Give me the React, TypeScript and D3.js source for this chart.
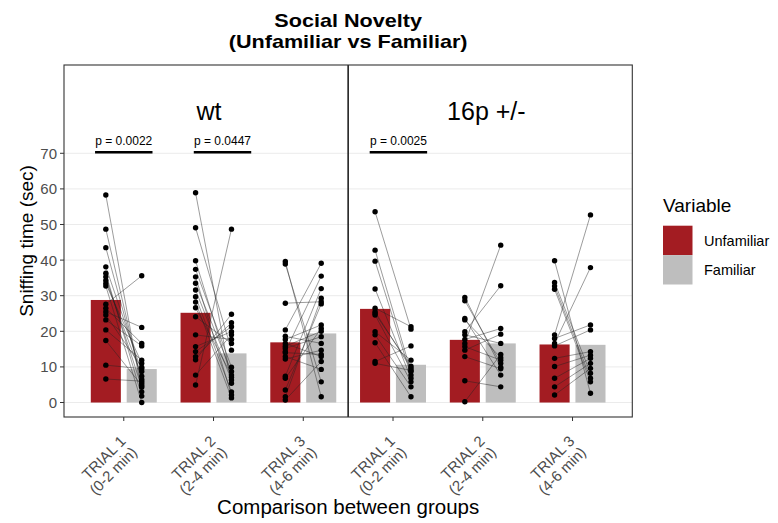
import React from "react";
import * as d3 from "d3";

// ---------- data ----------
const genotypes = ["wt", "16p +/-"];
const trialNames = ["TRIAL 1", "TRIAL 2", "TRIAL 3"];
const trialWindows = ["(0-2 min)", "(2-4 min)", "(4-6 min)"];
const variables = ["Unfamiliar", "Familiar"];
const yTicks = [0, 10, 20, 30, 40, 50, 60, 70];

// bar heights (group means), order: wt T1..T3, 16p T1..T3
const meanUnfamiliar = [28.8, 25.2, 16.9, 26.3, 17.6, 16.3];
const meanFamiliar = [9.4, 13.8, 19.4, 10.6, 16.6, 16.2];

// paired animals (same index = same animal)
const wtT1U = [58.3, 48.7, 43.5, 38.1, 36.3, 35.3, 34.3, 33.4, 32.7, 27.6, 26.5, 25.5, 24.6, 23.2, 20.4, 17.4, 10.5, 6.6];
const wtT1F = [3.0, 5.4, 6.5, 8.7, 1.8, 4.3, 7.4, 11.0, 0.0, 35.6, 16.6, 21.1, 9.9, 15.9, 11.9, 4.8, 9.5, 6.0];
const wtT2U = [58.9, 49.1, 39.8, 37.4, 35.3, 33.5, 31.6, 29.7, 28.2, 26.6, 24.1, 19.0, 15.7, 14.3, 12.9, 12.0, 7.7, 4.9];
const wtT2F = [5.4, 14.7, 7.1, 9.9, 2.1, 8.7, 6.3, 3.0, 1.3, 7.7, 16.6, 17.7, 19.9, 21.3, 22.4, 24.8, 19.0, 48.7];
const wtT3U = [39.6, 38.9, 27.9, 20.4, 18.6, 17.7, 16.6, 15.8, 15.2, 14.3, 12.9, 12.2, 7.4, 6.8, 3.5, 1.6, 0.7, 14.0];
const wtT3F = [1.6, 5.8, 28.3, 39.1, 16.6, 21.8, 12.9, 20.0, 18.5, 35.5, 9.3, 14.7, 32.0, 20.8, 27.7, 29.3, 11.5, 13.5];
const hetT1U = [53.6, 42.8, 39.7, 31.9, 26.5, 25.5, 24.6, 19.9, 19.0, 16.8, 11.5, 11.0, 25.0];
const hetT1F = [20.6, 8.7, 7.7, 6.8, 21.3, 9.6, 5.8, 11.9, 4.4, 1.6, 15.9, 9.0, 10.2];
const hetT2U = [29.5, 28.6, 23.6, 23.2, 19.9, 19.0, 17.7, 16.6, 15.7, 14.7, 12.9, 6.1, 0.2];
const hetT2F = [9.9, 11.0, 7.7, 12.6, 32.8, 16.6, 20.8, 44.2, 11.9, 19.2, 9.5, 4.4, 13.5];
const hetT3U = [39.8, 33.7, 32.7, 31.8, 19.0, 18.0, 16.6, 15.9, 12.4, 10.1, 6.8, 4.4, 2.1];
const hetT3F = [2.6, 8.2, 6.8, 5.8, 52.7, 21.8, 37.9, 20.4, 14.3, 13.3, 12.4, 11.0, 9.6];

const pairedU = [wtT1U, wtT2U, wtT3U, hetT1U, hetT2U, hetT3U];
const pairedF = [wtT1F, wtT2F, wtT3F, hetT1F, hetT2F, hetT3F];

// significance labels: position in category units (1..6)
const pLabels = ["p = 0.0022", "p = 0.0447", "p = 0.0025"];
const pCenters = [1.0, 2.1, 4.06];
const pHalfWidths = [0.32, 0.32, 0.32];
const pLevel = 70.3;

// facet-like labels position in category units
const genotypeX = [1.95, 5.04];
const genotypeY = 79.4;

// ---------- layout ----------
const W = 778;
const H = 523;
const panel = { left: 64, right: 632.3, top: 65, bottom: 417 };
const RED = "#A31C22";
const GREY = "#BEBEBE";
const FONT = "'Liberation Sans', Arial, Helvetica, sans-serif";

export default function App() {
  const catKeys = genotypes.flatMap((g) => trialNames.map((t) => `${g}|${t}`));
  const x = d3
    .scalePoint<string>()
    .domain(catKeys)
    .range([panel.left, panel.right])
    .padding(0.666);
  const step = x.step();
  const xAt = (v: number) => (x(catKeys[0]) as number) + (v - 1) * step;
  const y = d3.scaleLinear().domain([-4.07, 94.8]).range([panel.bottom, panel.top]);

  const dodge = 0.2 * step;
  const barW = 0.335 * step;
  const cx = (i: number) => x(catKeys[i]) as number;

  const lineGen = d3
    .line<[number, number]>()
    .x((d) => d[0])
    .y((d) => d[1]);

  const panelCx = (panel.left + panel.right) / 2;
  const panelCy = (panel.top + panel.bottom) / 2;

  return (
    <svg
      width={W}
      height={H}
      style={{ position: "absolute", left: 0, top: 0, background: "#fff" }}
      fontFamily={FONT}
    >
      {/* title */}
      <text
        transform={`translate(${panelCx},27) scale(1.2,1)`}
        textAnchor="middle"
        fontSize={18}
        fontWeight="bold"
        fill="#000"
      >
        Social Novelty
      </text>
      <text
        transform={`translate(${panelCx},47.5) scale(1.2,1)`}
        textAnchor="middle"
        fontSize={18}
        fontWeight="bold"
        fill="#000"
      >
        (Unfamiliar vs Familiar)
      </text>

      {/* grid */}
      {yTicks.map((t) => (
        <line
          key={`g${t}`}
          x1={panel.left}
          x2={panel.right}
          y1={y(t)}
          y2={y(t)}
          stroke="#EBEBEB"
          strokeWidth={1}
        />
      ))}

      {/* bars */}
      {catKeys.map((k, i) => (
        <g key={`b${k}`}>
          <rect
            x={cx(i) - dodge - barW / 2}
            y={y(meanUnfamiliar[i])}
            width={barW}
            height={y(0) - y(meanUnfamiliar[i])}
            fill={RED}
          />
          <rect
            x={cx(i) + dodge - barW / 2}
            y={y(meanFamiliar[i])}
            width={barW}
            height={y(0) - y(meanFamiliar[i])}
            fill={GREY}
          />
        </g>
      ))}

      {/* paired lines */}
      {catKeys.map((k, i) =>
        pairedU[i].map((u, j) => (
          <path
            key={`l${i}-${j}`}
            d={
              lineGen([
                [cx(i) - dodge, y(u)],
                [cx(i) + dodge, y(pairedF[i][j])],
              ]) as string
            }
            stroke="#222"
            strokeOpacity={0.75}
            strokeWidth={0.6}
            fill="none"
          />
        ))
      )}

      {/* points */}
      {catKeys.map((k, i) => (
        <g key={`p${k}`}>
          {pairedU[i].map((u, j) => (
            <circle key={`u${j}`} cx={cx(i) - dodge} cy={y(u)} r={2.7} fill="#000" />
          ))}
          {pairedF[i].map((f, j) => (
            <circle key={`f${j}`} cx={cx(i) + dodge} cy={y(f)} r={2.7} fill="#000" />
          ))}
        </g>
      ))}

      {/* separator between genotypes */}
      <line
        x1={xAt(3.5)}
        x2={xAt(3.5)}
        y1={panel.top}
        y2={panel.bottom}
        stroke="#222"
        strokeWidth={1.6}
      />

      {/* genotype labels */}
      {genotypes.map((g, i) => (
        <text
          key={g}
          x={xAt(genotypeX[i])}
          y={y(genotypeY)}
          textAnchor="middle"
          fontSize={25}
          fill="#000"
        >
          {g}
        </text>
      ))}

      {/* p-values */}
      {pLabels.map((p, i) => (
        <g key={p}>
          <text
            x={xAt(pCenters[i])}
            y={y(pLevel) - 7}
            textAnchor="middle"
            fontSize={12}
            fill="#000"
          >
            {p}
          </text>
          <line
            x1={xAt(pCenters[i] - pHalfWidths[i])}
            x2={xAt(pCenters[i] + pHalfWidths[i])}
            y1={y(pLevel)}
            y2={y(pLevel)}
            stroke="#000"
            strokeWidth={2.4}
          />
        </g>
      ))}

      {/* panel border */}
      <rect
        x={panel.left}
        y={panel.top}
        width={panel.right - panel.left}
        height={panel.bottom - panel.top}
        fill="none"
        stroke="#333"
        strokeWidth={1.1}
      />

      {/* y axis */}
      {yTicks.map((t) => (
        <g key={`yt${t}`}>
          <line x1={panel.left - 4} x2={panel.left} y1={y(t)} y2={y(t)} stroke="#333" strokeWidth={1} />
          <text
            x={panel.left - 7}
            y={y(t)}
            dy="0.36em"
            textAnchor="end"
            fontSize={15}
            fill="#4D4D4D"
          >
            {t}
          </text>
        </g>
      ))}
      <text
        transform={`translate(33,${panelCy}) rotate(-90)`}
        textAnchor="middle"
        fontSize={19}
        fill="#000"
      >
        Sniffing time (sec)
      </text>

      {/* x axis */}
      {catKeys.map((k, i) => (
        <g key={`xt${k}`}>
          <line x1={cx(i)} x2={cx(i)} y1={panel.bottom} y2={panel.bottom + 4} stroke="#333" strokeWidth={1} />
          <g transform={`translate(${cx(i) + 3},${panel.bottom + 25}) rotate(-45)`}>
            <text textAnchor="end" fontSize={15} fill="#4D4D4D">
              {trialNames[i % 3]}
            </text>
            <text textAnchor="end" fontSize={15} fill="#4D4D4D" y={16}>
              {trialWindows[i % 3]}
            </text>
          </g>
        </g>
      ))}
      <text x={panelCx} y={514} textAnchor="middle" fontSize={20.5} fill="#000">
        Comparison between groups
      </text>

      {/* legend */}
      <text x={663} y={212} fontSize={19} fill="#000">
        Variable
      </text>
      {variables.map((v, i) => (
        <g key={v}>
          <rect x={663} y={225.7 + i * 29.4} width={29.5} height={29.4} fill={i === 0 ? RED : GREY} />
          <text x={704} y={246 + i * 29.4} fontSize={14.5} fill="#000">
            {v}
          </text>
        </g>
      ))}
    </svg>
  );
}
